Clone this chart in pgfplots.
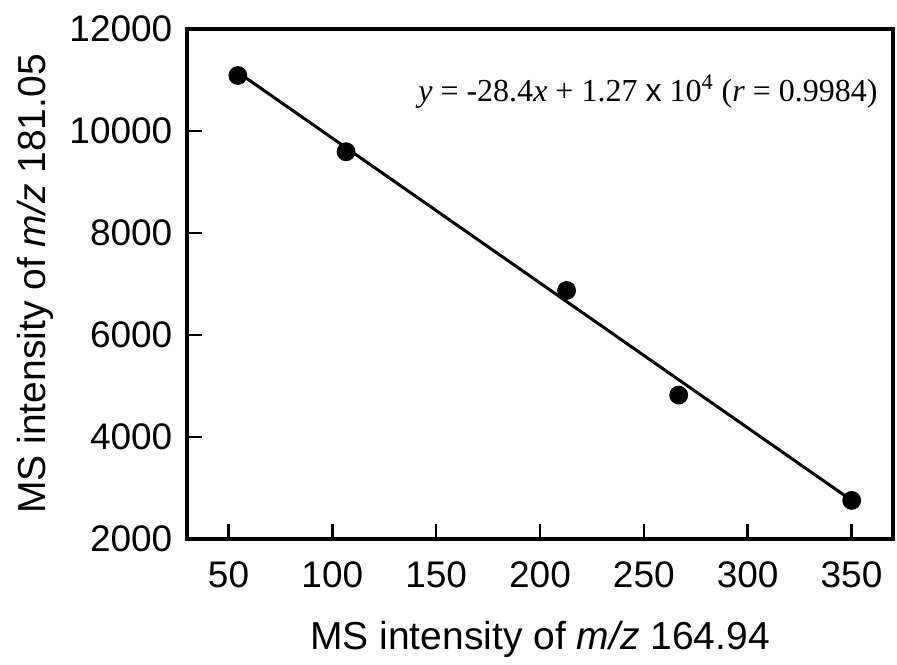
\documentclass[border=0pt]{standalone}
\usepackage{fontspec}
\setmainfont{Liberation Sans}
\setsansfont{Liberation Sans}
\newfontfamily\timesfont{Liberation Serif}
\usepackage{pgfplots}
\pgfplotsset{compat=1.18}
\begin{document}
\begin{tikzpicture}
\begin{axis}[
  scale only axis,
  width=353pt, height=255pt,
  xmin=30, xmax=370, ymin=2000, ymax=12000,
  xtick={50,100,150,200,250,300,350},
  ytick={2000,4000,6000,8000,10000,12000},
  scaled y ticks=false, scaled x ticks=false,
  xtick pos=bottom, ytick pos=left,
  tick align=inside,
  major tick length=7.5pt,
  axis line style={line width=1.6pt},
  every tick/.style={line width=1.2pt, black},
  /pgf/number format/assume math mode=true,
  /pgf/number format/1000 sep={},
  ticklabel style={font=\fontsize{18.5}{21}\selectfont},
  yticklabel style={xshift=-3.8pt},
  xticklabel style={yshift=-7.8pt},
  label style={font=\fontsize{19.5}{22}\selectfont},
  xlabel={MS intensity of \textit{m/z} 164.94},
  ylabel={MS intensity of \textit{m/z} 181.05},
  xlabel style={at={(axis description cs:0.5,-0.2176)}, anchor=base},
  ylabel style={at={(axis description cs:-0.2011,0.5)}, anchor=base},
  clip=false,
]
\addplot[black, line width=1.5pt, no marks] coordinates {(54.5,11152) (350,2760)};
\addplot[only marks, mark=*, mark size=4.5pt, black] coordinates {
(54.5,11088) (106.6,9593) (212.8,6873) (266.8,4822) (350.1,2757)};
\node[anchor=base east, inner sep=0pt, font=\timesfont\fontsize{16}{19}\selectfont] at (axis description cs:0.9788,0.8575)
  {\textit{y} = -28.4\textit{x} + 1.27 {\sffamily x} 10\textsuperscript{4} (\textit{r} = 0.9984)};
\end{axis}
\path ([xshift=-93.5pt,yshift=-61pt]current axis.south west) rectangle ([xshift=2pt,yshift=14.5pt]current axis.north east);
\end{tikzpicture}
\end{document}
